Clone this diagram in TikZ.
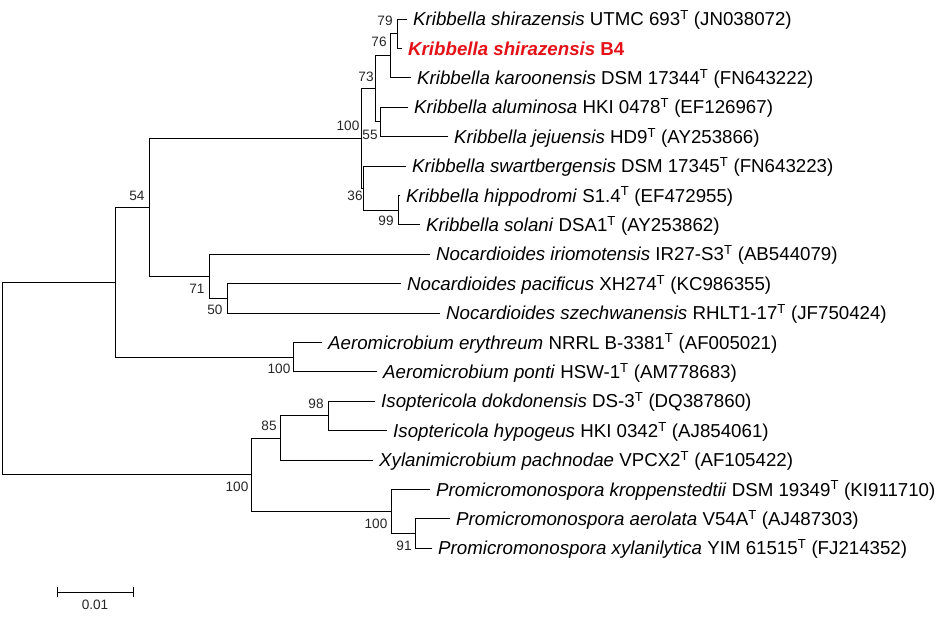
\documentclass[tikz,border=0pt]{standalone}
\usepackage{fontspec}
\setmainfont{Liberation Sans}
\definecolor{hlred}{RGB}{228,18,24}
\newcommand{\Tsup}{\textsuperscript{T}}
\begin{document}
\begin{tikzpicture}[x=1pt,y=-1pt,
  branch/.style={line width=0.9pt, line cap=rect},
  leaf/.style={anchor=west, inner xsep=6pt, inner ysep=0pt, text height=13.4pt, text depth=0pt, font=\fontsize{18.7}{20}\selectfont},
  boot/.style={inner sep=0pt, font=\fontsize{13.6}{15}\selectfont, text=black!85}]
\useasboundingbox (0,0) rectangle (946,622);
% leaves
\node[leaf] (L1) at (407,19) {\textit{Kribbella shirazensis} UTMC 693\Tsup{} (JN038072)};
\node[leaf, text=hlred] (L2) at (402,48.4) {\textbf{\textit{Kribbella shirazensis} B4}};
\node[leaf] (L3) at (411,77.8) {\textit{Kribbella karoonensis} DSM 17344\Tsup{} (FN643222)};
\node[leaf] (L4) at (408,107.2) {\textit{Kribbella aluminosa} HKI 0478\Tsup{} (EF126967)};
\node[leaf] (L5) at (448,136.6) {\textit{Kribbella jejuensis} HD9\Tsup{} (AY253866)};
\node[leaf] (L6) at (406,166) {\textit{Kribbella swartbergensis} DSM 17345\Tsup{} (FN643223)};
\node[leaf] (L7) at (400,195.4) {\textit{Kribbella hippodromi} S1.4\Tsup{} (EF472955)};
\node[leaf] (L8) at (420,224.8) {\textit{Kribbella solani} DSA1\Tsup{} (AY253862)};
\node[leaf] (L9) at (430,254.2) {\textit{Nocardioides iriomotensis} IR27-S3\Tsup{} (AB544079)};
\node[leaf] (L10) at (401,283.6) {\textit{Nocardioides pacificus} XH274\Tsup{} (KC986355)};
\node[leaf] (L11) at (440,313) {\textit{Nocardioides szechwanensis} RHLT1-17\Tsup{} (JF750424)};
\node[leaf] (L12) at (322,342.4) {\textit{Aeromicrobium erythreum} NRRL B-3381\Tsup{} (AF005021)};
\node[leaf] (L13) at (377,371.8) {\textit{Aeromicrobium ponti} HSW-1\Tsup{} (AM778683)};
\node[leaf] (L14) at (375,401.2) {\textit{Isoptericola dokdonensis} DS-3\Tsup{} (DQ387860)};
\node[leaf] (L15) at (387,430.6) {\textit{Isoptericola hypogeus} HKI 0342\Tsup{} (AJ854061)};
\node[leaf] (L16) at (373,460) {\textit{Xylanimicrobium pachnodae} VPCX2\Tsup{} (AF105422)};
\node[leaf] (L17) at (430,489.4) {\textit{Promicromonospora kroppenstedtii} DSM 19349\Tsup{} (KI911710)};
\node[leaf] (L18) at (450,518.8) {\textit{Promicromonospora aerolata} V54A\Tsup{} (AJ487303)};
\node[leaf] (L19) at (432,548.2) {\textit{Promicromonospora xylanilytica} YIM 61515\Tsup{} (FJ214352)};
% internal nodes
\coordinate (n79) at (397,33.7);
\coordinate (n76) at (390,55.75);
\coordinate (n55) at (380,121.9);
\coordinate (n73) at (375,88.8);
\coordinate (n99) at (398,210.1);
\coordinate (n36) at (363,188);
\coordinate (nK) at (361,138.4);
\coordinate (n50) at (227,298.3);
\coordinate (n71) at (209,276.25);
\coordinate (n54) at (149,207.3);
\coordinate (nA) at (293,357.1);
\coordinate (nU) at (115,282.2);
\coordinate (n98) at (328,415.9);
\coordinate (n85) at (280,438);
\coordinate (n91) at (415,533.5);
\coordinate (nP) at (391,511.45);
\coordinate (nL) at (251,474.7);
\coordinate (root) at (2,378.5);
% branches
\draw[branch] (n79) |- (L1.west); \draw[branch] (n79) |- (L2.west);
\draw[branch] (n76) |- (n79); \draw[branch] (n76) |- (L3.west);
\draw[branch] (n55) |- (L4.west); \draw[branch] (n55) |- (L5.west);
\draw[branch] (n73) |- (n76); \draw[branch] (n73) |- (n55);
\draw[branch] (n99) |- (L7.west); \draw[branch] (n99) |- (L8.west);
\draw[branch] (n36) |- (L6.west); \draw[branch] (n36) |- (n99);
\draw[branch] (nK) |- (n73); \draw[branch] (nK) |- (n36);
\draw[branch] (n50) |- (L10.west); \draw[branch] (n50) |- (L11.west);
\draw[branch] (n71) |- (L9.west); \draw[branch] (n71) |- (n50);
\draw[branch] (n54) |- (nK); \draw[branch] (n54) |- (n71);
\draw[branch] (nA) |- (L12.west); \draw[branch] (nA) |- (L13.west);
\draw[branch] (nU) |- (n54); \draw[branch] (nU) |- (nA);
\draw[branch] (n98) |- (L14.west); \draw[branch] (n98) |- (L15.west);
\draw[branch] (n85) |- (n98); \draw[branch] (n85) |- (L16.west);
\draw[branch] (n91) |- (L18.west); \draw[branch] (n91) |- (L19.west);
\draw[branch] (nP) |- (L17.west); \draw[branch] (nP) |- (n91);
\draw[branch] (nL) |- (n85); \draw[branch] (nL) |- (nP);
\draw[branch] (root) |- (nU); \draw[branch] (root) |- (nL);
% bootstrap values
\node[boot] (b79) at (385,21) {79};
\node[boot] (b76) at (379,42) {76};
\node[boot] (b73) at (366,77) {73};
\node[boot] (b100K) at (348,126) {100};
\node[boot] (b55) at (370,135) {55};
\node[boot] (b36) at (355,196) {36};
\node[boot] (b99) at (386,221) {99};
\node[boot] (b54) at (137,196) {54};
\node[boot] (b71) at (197,289) {71};
\node[boot] (b50) at (215,310) {50};
\node[boot] (b100A) at (279,369) {100};
\node[boot] (b98) at (316,404) {98};
\node[boot] (b85) at (269,426) {85};
\node[boot] (b100L) at (237,487) {100};
\node[boot] (b100P) at (376,524) {100};
\node[boot] (b91) at (404,546) {91};
% scale bar
\coordinate (s1) at (57,592);
\coordinate (s2) at (133,592);
\draw[branch, line cap=butt] (s1) -- (s2);
\draw[branch, line cap=butt] ([yshift=5pt]s1) -- ([yshift=-5pt]s1);
\draw[branch, line cap=butt] ([yshift=5pt]s2) -- ([yshift=-5pt]s2);
\node[boot] (sl) at (95,605) {0.01};
\end{tikzpicture}
\end{document}
